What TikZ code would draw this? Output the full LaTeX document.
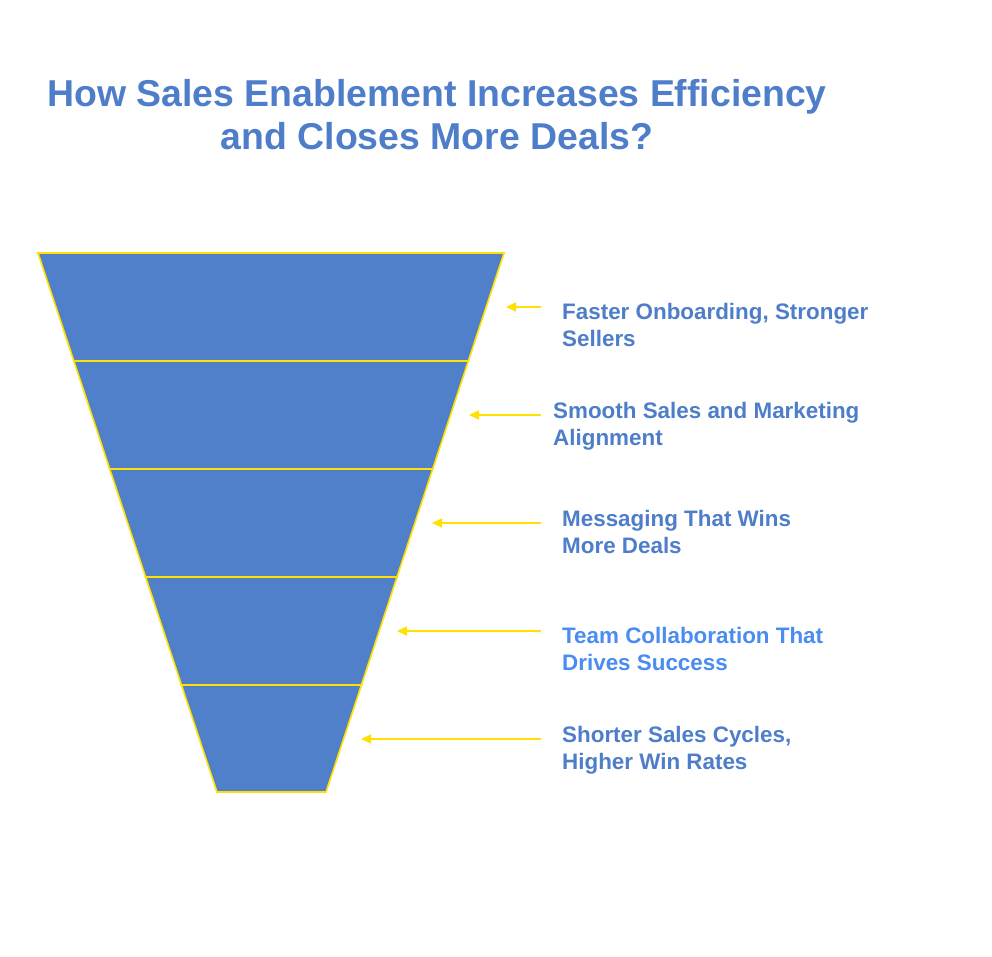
\documentclass[tikz,border=0pt]{standalone}
\usepackage{fontspec}
\setmainfont{Liberation Sans}
\usetikzlibrary{arrows.meta}
\definecolor{fun}{HTML}{4F80C9}
\definecolor{txt}{HTML}{4E7ECA}
\definecolor{txtlight}{HTML}{4A8CF0}
\definecolor{yel}{HTML}{FFE000}
\tikzset{
  rowbox/.style={fill=fun,draw=yel,line width=1.6pt,line join=miter},
  lbl/.style={anchor=north west,inner sep=0pt,align=left,text=txt,font=\bfseries\fontsize{22.4}{27}\selectfont},
  arr/.style={draw=yel,line width=1.5pt,-{Triangle[length=10pt,width=9pt]}},
  ttl/.style={anchor=north,inner sep=0pt,align=center,text=txt,font=\bfseries\fontsize{37.4}{43}\selectfont}
}
\begin{document}
\begin{tikzpicture}[x=1pt,y=-1pt]
\useasboundingbox[fill=white] (0,0) rectangle (992,956);
\node[ttl] (title) at (437,79.5) {How Sales Enablement Increases Efficiency\\and Closes More Deals?};
% funnel rows
\coordinate (a0) at (38,253);  \coordinate (b0) at (504,253);
\coordinate (a1) at (73.9,361); \coordinate (b1) at (468.3,361);
\coordinate (a2) at (109.7,469); \coordinate (b2) at (432.7,469);
\coordinate (a3) at (145.6,577); \coordinate (b3) at (397.0,577);
\coordinate (a4) at (181.5,685); \coordinate (b4) at (361.4,685);
\coordinate (a5) at (217,792); \coordinate (b5) at (326,792);
\path[rowbox] (a0) -- (b0) -- (b1) -- (a1) -- cycle;
\path[rowbox] (a1) -- (b1) -- (b2) -- (a2) -- cycle;
\path[rowbox] (a2) -- (b2) -- (b3) -- (a3) -- cycle;
\path[rowbox] (a3) -- (b3) -- (b4) -- (a4) -- cycle;
\path[rowbox] (a4) -- (b4) -- (b5) -- (a5) -- cycle;
% labels
\node[lbl] (l1) at (562,303) {Faster Onboarding, Stronger\\Sellers};
\node[lbl] (l2) at (553,402) {Smooth Sales and Marketing\\Alignment};
\node[lbl] (l3) at (562,510) {Messaging That Wins\\More Deals};
\node[lbl,text=txtlight] (l4) at (562,627) {Team Collaboration That\\Drives Success};
\node[lbl] (l5) at (562,726) {Shorter Sales Cycles,\\Higher Win Rates};
% arrows
\coordinate (s1) at (541,307); \coordinate (t1) at (506,307);
\coordinate (s2) at (541,415); \coordinate (t2) at (469,415);
\coordinate (s3) at (541,523); \coordinate (t3) at (432,523);
\coordinate (s4) at (541,631); \coordinate (t4) at (397,631);
\coordinate (s5) at (541,739); \coordinate (t5) at (361,739);
\draw[arr] (s1) -- (t1);
\draw[arr] (s2) -- (t2);
\draw[arr] (s3) -- (t3);
\draw[arr] (s4) -- (t4);
\draw[arr] (s5) -- (t5);
\end{tikzpicture}
\end{document}
